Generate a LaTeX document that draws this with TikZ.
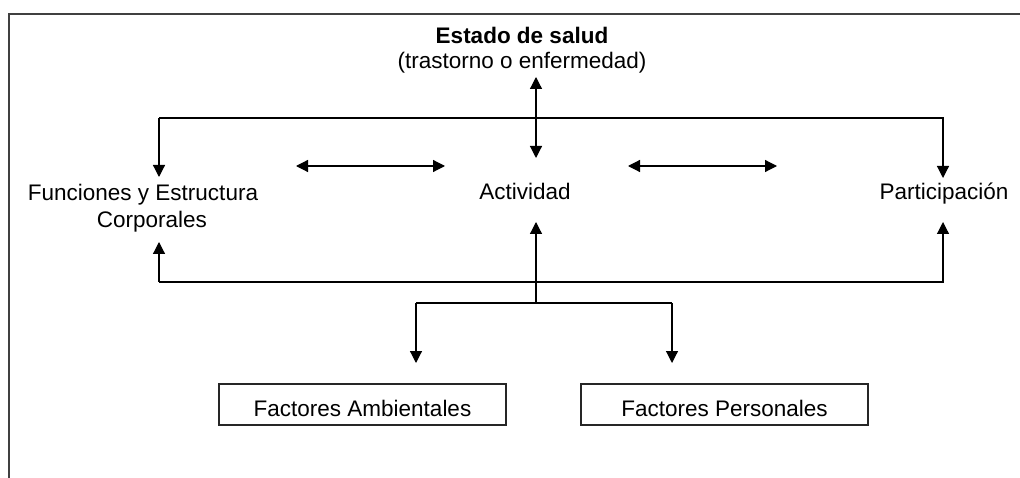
\documentclass[tikz,border=0pt]{standalone}
\usepackage{fontspec}
\setmainfont{Liberation Sans}
\usetikzlibrary{arrows.meta}
\tikzset{
  conn/.style={line width=1.2pt, black},
  arr/.style={conn, -{Triangle[length=12pt,width=12pt]}},
  arrboth/.style={conn, {Triangle[length=12pt,width=12pt]}-{Triangle[length=12pt,width=12pt]}},
  frameline/.style={line width=1.6pt, black!75},
  lab/.style={inner sep=0pt, font=\fontsize{22.5}{27}\selectfont},
  factbox/.style={draw, line width=1.3pt, black!85, text=black, inner sep=0pt, minimum width=287pt, minimum height=41pt, text height=23pt, text depth=0pt, font=\fontsize{22.5}{27}\selectfont}
}
\begin{document}
\begin{tikzpicture}[x=1pt,y=-1pt]
\useasboundingbox (0,0) rectangle (1020,478);
\fill[white] (0,0) rectangle (1020,478);
% frame
\draw[frameline] (9,478) -- (9,14) -- (1020,14);
% texts
\node[lab, anchor=base, font=\fontsize{22.5}{27}\selectfont\bfseries] (estado) at (522,44) {Estado de salud};
\node[lab, anchor=base] (tras) at (522,69) {(trastorno o enfermedad)};
\node[lab, anchor=north, align=center] (func) at (143,184) {Funciones y Estructura\\\hspace*{18pt}Corporales};
\node[lab, anchor=base] (act) at (525,200) {Actividad};
\node[lab, anchor=base] (part) at (944,200) {Participación};
\node[factbox] (amb) at (362.5,404.5) {Factores Ambientales};
\node[factbox] (pers) at (724.5,404.5) {Factores Personales};
% coordinates
\coordinate (tl) at (159,118);
\coordinate (tr) at (943,118);
\coordinate (ftip) at (159,177);
\coordinate (ptip) at (943,178);
\coordinate (vtop) at (536,77);
\coordinate (vbot) at (536,158);
\coordinate (h1a) at (296,166);
\coordinate (h1b) at (445,166);
\coordinate (h2a) at (628,166);
\coordinate (h2b) at (777,166);
\coordinate (bl) at (159,282);
\coordinate (br) at (943,282);
\coordinate (fbtip) at (159,242);
\coordinate (pbtip) at (943,222);
\coordinate (atip) at (536,222);
\coordinate (branch) at (536,303);
\coordinate (bL) at (416,303);
\coordinate (bR) at (672,303);
\coordinate (ambtip) at (416,363);
\coordinate (perstip) at (672,363);
% top distribution line
\draw[arr] (tl) -- (tr) -- (ptip);
\draw[arr] (tl) -- (ftip);
% health state double arrow
\draw[arrboth] (vtop) -- (vbot);
% horizontal double arrows
\draw[arrboth] (h1a) -- (h1b);
\draw[arrboth] (h2a) -- (h2b);
% bottom return line
\draw[arr] (bl) -- (br) -- (pbtip);
\draw[arr] (bl) -- (fbtip);
\draw[arr] (branch) -- (atip);
% branch to factors
\draw[conn] (bL) -- (bR);
\draw[arr] (bL) -- (ambtip);
\draw[arr] (bR) -- (perstip);
\end{tikzpicture}
\end{document}
